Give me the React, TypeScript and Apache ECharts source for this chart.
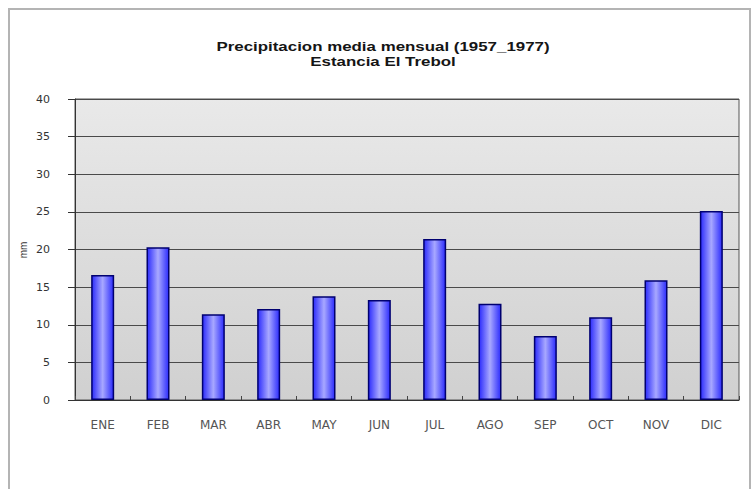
import React, { useEffect, useRef } from "react";
import * as echarts from "echarts";

const months = ["ENE", "FEB", "MAR", "ABR", "MAY", "JUN", "JUL", "AGO", "SEP", "OCT", "NOV", "DIC"];
const precipitation = [16.6, 20.3, 11.4, 12.1, 13.8, 13.3, 21.4, 12.8, 8.5, 11.0, 15.9, 25.1];
const titleLines = ["Precipitacion media mensual (1957_1977)", "Estancia El Trebol"];
const yAxisName = "mm";

export default function App() {
  const ref = useRef<HTMLDivElement>(null);
  useEffect(() => {
    if (!ref.current) return;
    const chart = echarts.init(ref.current, null, { renderer: "svg" });
    chart.setOption({
      animation: false,
      backgroundColor: "#ffffff",
      graphic: [
        {
          type: "rect",
          shape: { x: 9, y: 9, width: 741, height: 492 },
          style: { fill: "none", stroke: "#b4b4b4", lineWidth: 2 },
          silent: true,
        },
        {
          type: "text",
          x: 383,
          y: 46,
          scaleX: 1.3,
          style: {
            text: titleLines[0],
            fontFamily: "Liberation Sans, Arial, sans-serif",
            fontSize: 13,
            fontWeight: "bold",
            fill: "#151515",
            align: "center",
            verticalAlign: "middle",
          },
        },
        {
          type: "text",
          x: 383,
          y: 61,
          scaleX: 1.3,
          style: {
            text: titleLines[1],
            fontFamily: "Liberation Sans, Arial, sans-serif",
            fontSize: 13,
            fontWeight: "bold",
            fill: "#151515",
            align: "center",
            verticalAlign: "middle",
          },
        },
        {
          type: "text",
          x: 23,
          y: 250,
          rotation: Math.PI / 2,
          style: {
            text: yAxisName,
            fontFamily: "Liberation Sans, Arial, sans-serif",
            fontSize: 10,
            fill: "#333",
            align: "center",
            verticalAlign: "middle",
          },
        },
      ],
      grid: {
        left: 75,
        right: 15,
        top: 99,
        bottom: 89,
        show: true,
        backgroundColor: new echarts.graphic.LinearGradient(0, 0, 0, 1, [
          { offset: 0, color: "#e9e9e9" },
          { offset: 1, color: "#d0d0d0" },
        ]),
        borderColor: "#555",
        borderWidth: 1,
      },
      xAxis: {
        type: "category",
        data: months,
        axisLine: { show: true, lineStyle: { color: "#333", width: 1 } },
        axisTick: { show: true, length: 4, inside: true, lineStyle: { color: "#444" } },
        axisLabel: {
          color: "#555",
          fontSize: 12,
          margin: 19,
          fontFamily: "DejaVu Sans, sans-serif",
        },
      },
      yAxis: {
        type: "value",
        min: 0,
        max: 40,
        interval: 5,
        axisLine: { show: true, lineStyle: { color: "#333", width: 1 } },
        axisTick: { show: true, length: 7, lineStyle: { color: "#333" } },
        axisLabel: {
          color: "#333",
          fontSize: 11,
          margin: 25,
          fontFamily: "DejaVu Sans, sans-serif",
        },
        splitLine: { show: true, lineStyle: { color: "#4a4a4a", width: 1.2 } },
      },
      series: [
        {
          type: "bar",
          data: precipitation,
          barWidth: 23,
          itemStyle: {
            color: new echarts.graphic.LinearGradient(0, 0, 1, 0, [
              { offset: 0, color: "#2c2cfc" },
              { offset: 0.5, color: "#a8a8ff" },
              { offset: 1, color: "#2c2cfc" },
            ]),
            borderColor: "#000070",
            borderWidth: 1.5,
          },
        },
      ],
    });
    return () => chart.dispose();
  }, []);
  return <div ref={ref} style={{ width: 754, height: 489, position: "fixed", left: 0, top: 0 }} />;
}
